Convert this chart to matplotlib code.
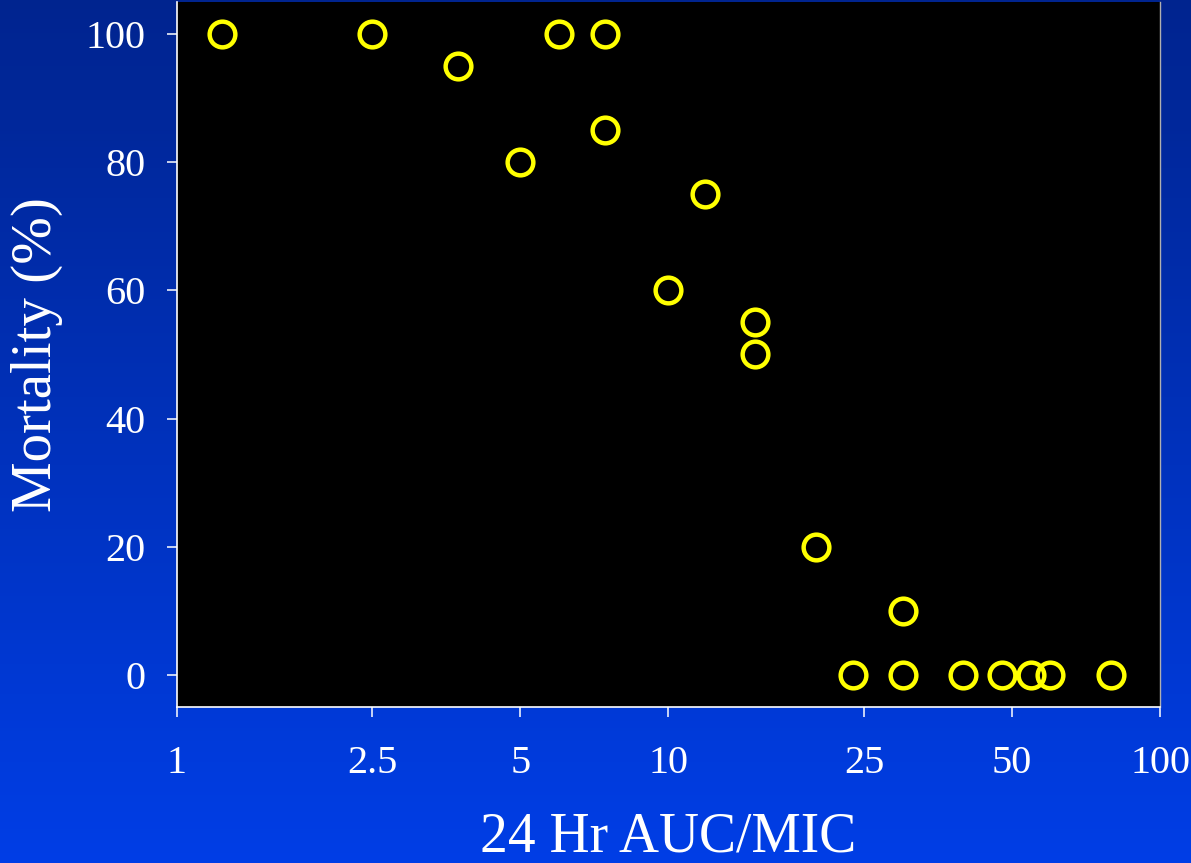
"""Mortality vs 24 Hr AUC/MIC scatter on a blue slide background"""

import matplotlib
matplotlib.use("Agg")
import matplotlib.pyplot as plt
from matplotlib.colors import LinearSegmentedColormap
from matplotlib.ticker import FixedLocator, FixedFormatter, NullLocator
import numpy as np

# Data
auc_mic = [1.24, 2.5, 3.73, 5.0, 6.0, 7.43, 7.43, 11.9, 10.0, 15.0, 15.0,
           20.0, 23.8, 30.0, 30.0, 39.7, 47.7, 54.6, 59.7, 79.5]
mortality = [100, 100, 95, 80, 100, 100, 85, 75, 60, 55, 50,
             20, 0, 10, 0, 0, 0, 0, 0, 0]

x_ticks = [1, 2.5, 5, 10, 25, 50, 100]
x_tick_labels = ["1", "2.5", "5", "10", "25", "50", "100"]
y_ticks = [0, 20, 40, 60, 80, 100]


def main():
    plt.rcParams['font.family'] = ['Liberation Serif', 'DejaVu Serif']

    fig = plt.figure(figsize=(11.91, 8.63), dpi=100)

    # gradient background
    bg = fig.add_axes([0, 0, 1, 1], zorder=0)
    cmap = LinearSegmentedColormap.from_list("slide", ["#00248f", "#003ee6"])
    grad = np.linspace(0, 1, 256).reshape(-1, 1)
    bg.imshow(grad, aspect='auto', cmap=cmap, extent=[0, 1, 0, 1], origin='upper')
    bg.axis('off')

    ax = fig.add_axes([0.1482, 0.1808, 0.8258, 0.8169], zorder=1)
    ax.set_facecolor('black')
    ax.plot(auc_mic, mortality, linestyle='none', marker='o', markersize=18.5,
            markerfacecolor='none', markeredgecolor='#ffff00', markeredgewidth=3.2)

    ax.set_xscale('log')
    ax.set_xlim(1, 100)
    ax.set_ylim(-5.0, 105.0)
    ax.xaxis.set_major_locator(FixedLocator(x_ticks))
    ax.xaxis.set_major_formatter(FixedFormatter(x_tick_labels))
    ax.xaxis.set_minor_locator(NullLocator())
    ax.set_yticks(y_ticks)

    for side in ['left', 'bottom']:
        ax.spines[side].set_color('white')
        ax.spines[side].set_linewidth(1.2)
    ax.spines['right'].set_color('#b0b0b0')
    ax.spines['right'].set_linewidth(1.0)
    ax.spines['top'].set_visible(False)

    ax.tick_params(axis='both', colors='white', labelsize=29, length=7.5, width=1.1)
    ax.tick_params(axis='x', pad=20)
    ax.tick_params(axis='y', pad=15)

    ax.set_xlabel("24 Hr AUC/MIC", color='white', fontsize=40, labelpad=21)
    ax.set_ylabel("Mortality (%)", color='white', fontsize=41, labelpad=16)

    fig.savefig('out.png', dpi=100)


if __name__ == '__main__':
    main()
